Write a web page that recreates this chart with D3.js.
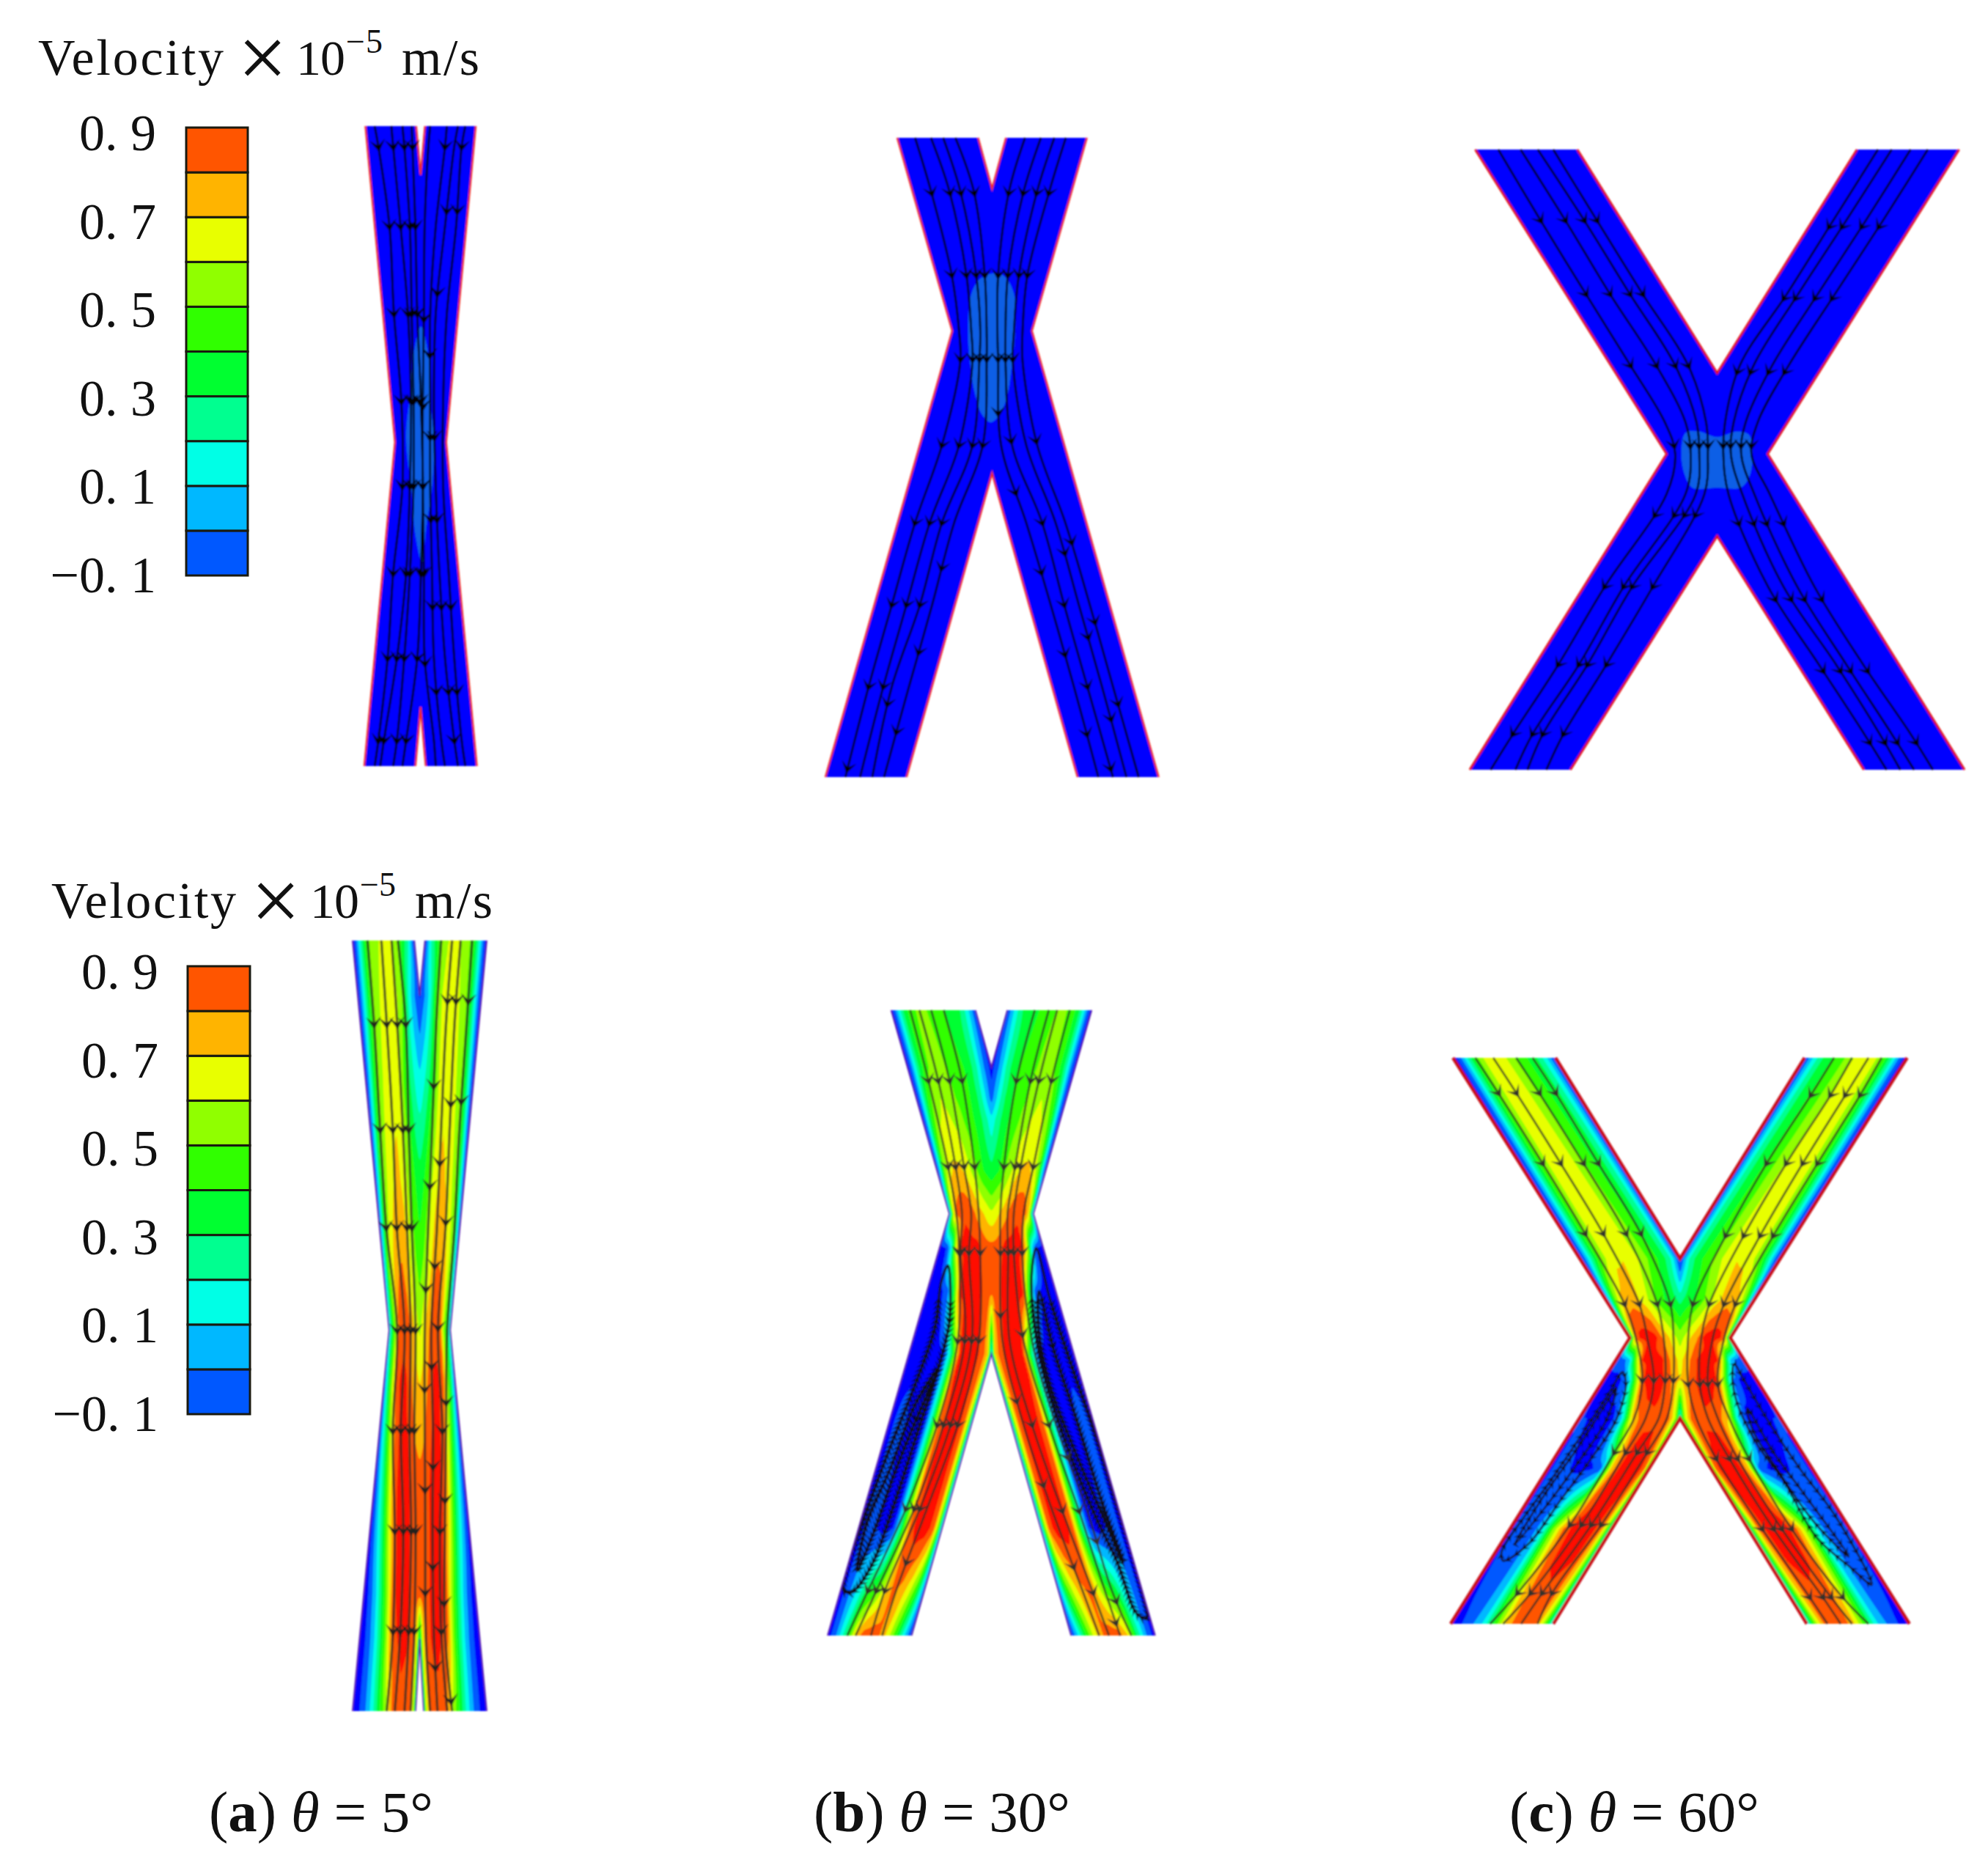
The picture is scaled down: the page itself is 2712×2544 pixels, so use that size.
<!DOCTYPE html>
<html><head><meta charset="utf-8">
<style>html,body{margin:0;padding:0;background:#fff}svg{display:block}text{font-family:"Liberation Serif",serif;fill:#111}</style>
<script src="https://cdn.jsdelivr.net/npm/d3@7/dist/d3.min.js"></script>
</head><body><svg id="c" width="2712" height="2544"></svg>
<script>
// ---------- legend ----------
const legendBreaks = [-0.1,0,0.1,0.2,0.3,0.4,0.5,0.6,0.7,0.8,0.9];
const legendColors = ["#0058ff","#00b8ff","#00ffe6","#00ff90","#00ff30","#30ff00","#90ff00","#e8ff00","#ffb400","#ff5500"];
const tickValues = [-0.1,0.1,0.3,0.5,0.7,0.9];
const tickLabels = ["\u22120. 1","0. 1","0. 3","0. 5","0. 7","0. 9"];
const underColor = "#0000ff", overColor = "#ff0a00";
// ---------- cross-channel stations (fraction of half channel width) ----------
const stations = [0,.04,.08,.14,.22,.32,.42,.52,.62,.72,.82,.9,.96,1];

// ---------- velocity tables, rows read top to bottom ----------
const aRows = [33,140,300,500,650,790,900,1100,1300,1390,1530];
const aField = [
[-.15,-.08,.05,.25,.45,.55,.6,.62,.6,.5,.35,.2,0,-.12],
[-.15,-.05,.08,.28,.48,.58,.64,.65,.62,.5,.18,.02,-.05,-.12],
[-.15,-.03,.12,.32,.5,.6,.66,.68,.65,.45,.3,.2,.14,.12],
[-.12,.02,.2,.42,.55,.65,.7,.72,.68,.6,.48,.4,.36,.34],
[-.1,.08,.28,.48,.62,.72,.78,.8,.75,.65,.55,.5,.46,.44],
[0,.15,.3,.42,.55,.82,.88,.88,.85,.78,.7,.65,.6,.58],
[-.1,.02,.2,.35,.55,.8,.9,.92,.92,.85,.78,.74,.72,.7],
[-.15,-.08,.02,.15,.32,.55,.82,.92,.95,.95,.88,.85,.84,.84],
[-.15,-.14,-.1,-.02,.1,.32,.55,.85,.95,.95,.9,.87,.86,.86],
[-.15,-.14,-.12,-.05,.05,.25,.48,.8,.9,.92,.9,.85,.6,.2],
[-.15,-.14,-.12,-.08,.02,.18,.38,.55,.82,.88,.88,.82,.6,.25]];
const bRows = [47,180,250,300,420,520,600,700,845,1000,1250,1500];
const bField = [
[-.15,-.05,.1,.3,.45,.52,.5,.45,.4,.35,.3,.15,0,-.12],
[-.15,-.05,.12,.32,.48,.54,.52,.46,.42,.38,.22,.02,-.08,-.15],
[-.15,-.03,.15,.38,.54,.6,.58,.5,.45,.4,.3,.16,.03,-.05],
[-.15,-.02,.18,.42,.58,.62,.6,.55,.48,.42,.35,.26,.18,.12],
[-.1,.02,.25,.52,.66,.72,.72,.68,.6,.52,.42,.38,.35,.33],
[-.05,.2,.52,.76,.85,.88,.88,.86,.8,.74,.7,.66,.63,.62],
[-.12,-.12,-.12,-.1,.1,.65,.95,.95,.95,.95,.88,.85,.84,.84],
[-.15,-.15,-.15,-.15,-.12,-.05,.4,.95,.95,.95,.93,.86,.84,.84],
[-.12,-.14,-.15,-.15,-.15,-.15,-.12,.3,.92,.95,.93,.84,.7,.05],
[-.1,-.12,-.08,-.05,-.12,-.15,-.15,.3,.86,.95,.95,.86,.55,-.02],
[-.15,-.12,-.08,-.05,-.1,-.15,-.1,.35,.86,.95,.95,.84,.45,-.05],
[-.15,-.1,-.05,.1,.3,.7,.85,.85,.8,.65,.4,.15,-.02,-.12]];
const cRows = [78,578,680,775,830,880,975,1100,1250,1487];
const cField = [
[-.15,-.1,0,.2,.45,.65,.66,.6,.48,.4,.3,.15,-.02,-.15],
[-.15,-.05,.1,.32,.55,.68,.7,.66,.56,.45,.36,.22,.02,-.15],
[-.1,.05,.3,.55,.72,.76,.72,.65,.55,.45,.38,.34,.3,.26],
[-.05,.25,.6,.85,.93,.95,.95,.93,.82,.75,.68,.62,.58,.55],
[-.1,-.08,-.05,-.02,.1,.55,.93,.95,.95,.92,.82,.75,.7,.66],
[-.1,-.12,-.13,-.15,-.12,.02,.5,.9,.95,.95,.88,.78,.72,.7],
[-.08,-.1,-.1,-.12,-.13,-.15,.1,.7,.85,.88,.88,.8,.55,.1],
[-.15,-.1,-.07,-.08,-.1,-.12,-.12,-.05,.7,.95,.96,.95,.8,.1],
[-.15,-.08,-.02,-.03,-.06,.1,.5,.8,.94,.95,.93,.8,.45,-.05],
[-.15,-.14,-.12,-.08,0,.12,.4,.68,.84,.86,.84,.6,.3,0]];

// ---------- channel walls: outer x [top, waist, bottom], inner x [top, bottom], y [top, apex, waist, apex, bottom] ----------
const topA_wall = {c:1124, outer:[975,1055,972], inner:[1112,1110], y:[245,340,860,1375,1490]};
const topB_wall = {c:760, outer:[372,597,78], inner:[703,410], y:[47,165,495,825,1530]};
const topC_wall = {c:772, outer:[68,625,52], inner:[365,345], y:[42,573,765,960,1515]};
const botA_wall = {c:397, outer:[122,272,122], inner:[375,380], y:[33,140,790,1390,1530]};
const botB_wall = {c:790, outer:[432,640,205], inner:[733,505], y:[47,180,520,845,1500]};
const botC_wall = {c:765, outer:[72,612,65], inner:[385,378], y:[78,578,775,975,1487]};

// ---------- streamlines: x at each row, per line ----------
const topA_rows = [245,285,440,610,780,945,1115,1280,1440,1490];
const topA_left = [[1000,1010,1040,1052,1072,1075,1050,1035,1010,1000],[1045,1050,1070,1090,1098,1095,1085,1060,1025,1015],[1075,1080,1095,1100,1105,1105,1095,1080,1060,1050],[1100,1102,1110,1115,1125,1130,1125,1115,1085,1075]];
const topA_right = [[1150,1145,1135,1133,1130,1130,1133,1135,1160,1165],[1195,1190,1165,1150,1150,1150,1155,1160,1180,1190],[1225,1215,1190,1165,1160,1165,1175,1190,1215,1225],[1245,1235,1220,1195,1185,1185,1200,1215,1235,1245]];
const topA_arrowsL = [[285,440,610,780,945,1115,1280,1440],[285,440,610,780,945,1115,1280,1440],[285,440,610,780,945,1115,1280,1440],[285,440,610,780,945,1115,1280,1440]];
const topA_arrowsR = [[620,790,945,1115,1290],[285,690,850,1010,1180,1345],[410,570,850,1010,1180,1345,1440],[285,410,1180,1345]];
const topA_blob = [[1125,635],[1145,690],[1150,780],[1160,850],[1155,950],[1140,1020],[1128,1095],[1110,1040],[1100,960],[1085,850],[1095,770],[1105,690]];

const topB_rows = [47,170,365,495,565,760,940,1130,1320,1530];
const topB_left = [[445,510,595,625,630,555,445,350,255,160],[510,585,655,675,680,625,505,410,315,220],[560,630,695,712,708,680,555,465,350,270],[610,685,730,738,738,722,605,515,420,318]];
const topB_right = [[895,830,785,782,785,797,900,1000,1095,1195],[960,890,825,815,815,842,965,1055,1150,1255],[1015,945,870,850,845,900,1020,1115,1210,1310],[1062,995,905,885,885,945,1060,1160,1255,1360]];
const topB_arrowsL = [[175,365,560,760,940,1130,1320,1510],[175,365,560,760,940,1130,1320],[175,365,560,760,940,1130,1360],[175,365,560,760,1045,1240,1425]];
const topB_arrowsR = [[175,365,560,685,870,1055,1245,1430],[175,365,560,750,940,1130,1320,1510],[175,365,560,1010,1205,1395],[175,365,750,985,1170,1360]];
const topB_blob = [[760,362],[810,368],[850,410],[855,500],[840,580],[820,650],[790,690],[755,707],[720,690],[690,640],[670,570],[662,490],[675,410],[710,375]];

const topC_rows = [42,210,385,555,690,765,860,1080,1265,1430,1515];
const topC_left = [[135,258,390,520,620,650,625,445,310,178,113],[200,330,460,595,680,695,680,500,370,235,185],[250,385,518,650,712,720,710,525,395,265,220],[295,422,555,688,740,745,735,585,450,325,275]];
const topC_right = [[1240,1110,975,838,795,790,805,920,1068,1200,1265],[1280,1148,1008,878,820,812,845,965,1118,1245,1305],[1335,1205,1065,932,855,842,880,1005,1148,1280,1345],[1385,1255,1115,980,890,872,925,1055,1197,1335,1400]];
const topC_arrowsL = [210,385,555,745,910,1080,1265,1430];
const topC_arrowsR = [225,395,570,745,930,1110,1280,1450];
const topC_blob = [[680,715],[720,712],[772,725],[830,712],[865,720],[875,760],[865,820],[840,845],[772,845],[700,845],[678,815],[668,765]];

const botA_rows = [33,195,400,590,790,985,1180,1375,1530];
const botA_left = [[183,210,235,260,305,287,295,288,262],[240,262,287,303,335,320,330,318,295],[282,305,328,345,360,355,362,352,335],[308,340,352,365,380,375,380,375,360]];
const botA_right = [[485,465,448,432,418,418,420,422,440],[530,505,485,468,445,452,450,455,470],[565,540,520,503,472,490,480,485,510],[612,590,560,540,510,505,500,500,530]];
const botA_arrowsL = [195,400,590,790,985,1180,1375];
const botA_arrowsR = [[315,510,710,905,1100,1300],[150,465,665,860,1055,1250,1445],[150,350,580,785,985,1180,1375],[150,345,930,1120,1320,1510]];

const botB_rows = [47,210,410,520,610,815,1010,1205,1395,1500];
const botB_left = [[500,565,635,665,675,670,597,485,350,275],[533,600,662,685,680,695,620,515,380,305],[575,640,692,718,710,720,645,535,410,360],[620,685,730,745,750,745,670,560,450,400]];
const botB_right = [[945,880,835,822,822,830,905,1005,1115,1175],[995,930,875,848,850,855,935,1040,1150,1210],[1025,960,895,870,870,905,995,1100,1195,1250],[1070,1005,940,905,900,935,1020,1130,1220,1290]];
const botB_arrowsL = [[210,410,610,815,1010,1205,1395],[210,410,610,815,1010,1205,1395],[210,410,610,815,1010,1205,1395],[210,410,610,815,1010,1330]];
const botB_arrowsR = [[210,410,610,755,955,1150,1340],[210,410,610,1010,1210,1400],[210,410,610,800,1010,1210,1470],[210,410,610,1085,1280,1420]];
const botB_loopsL = [[[635,640],[640,770],[600,880],[530,1020],[440,1200],[360,1340],[290,1400],[262,1395],[270,1350],[350,1200],[430,1060],[510,930],[590,780],[610,680]],[[600,880],[520,1000],[440,1130],[370,1260],[310,1350],[345,1240],[430,1110],[520,960]]];
const botB_loopsR = [[[950,600],[1000,720],[1080,880],[1160,1030],[1240,1200],[1310,1350],[1345,1460],[1310,1450],[1240,1330],[1160,1220],[1060,1060],[980,900],[940,760],[935,650]],[[960,700],[1010,830],[1090,990],[1180,1180],[1260,1330],[1200,1240],[1100,1090],[1000,920],[960,800]]];

const botC_rowsL = [78,165,340,515,690,775,880,975,1060,1240,1410,1487];
const botC_left = [[140,210,345,475,595,630,650,625,565,430,270,185],[195,265,400,530,640,665,685,660,600,465,310,225],[265,335,470,600,695,715,720,700,635,495,345,280],[315,385,515,645,735,745,745,725,665,525,375,330]];
const botC_rowsR = [78,170,340,520,690,775,890,975,1075,1250,1420,1487];
const botC_right = [[1235,1165,1030,905,805,790,790,815,875,1015,1160,1215],[1290,1225,1090,960,855,830,825,850,915,1050,1200,1255],[1340,1270,1140,1010,900,865,850,880,940,1075,1225,1290],[1380,1315,1185,1050,935,900,880,915,975,1105,1260,1340]];
const botC_arrowsL = [165,340,515,690,880,1060,1240,1410];
const botC_arrowsR = [170,340,520,690,890,1075,1250,1420];
const botC_loopsL = [[[590,860],[600,890],[570,980],[490,1080],[400,1180],[300,1290],[225,1330],[220,1310],[290,1220],[370,1130],[470,1010],[550,910]],[[570,900],[540,980],[450,1090],[360,1190],[260,1290],[340,1180],[460,1040],[530,950]]];
const botC_loopsR = [[[930,840],[960,880],[1040,990],[1130,1100],[1240,1220],[1350,1390],[1290,1350],[1180,1270],[1080,1130],[1000,1040],[940,940],[925,880]],[[970,950],[1050,1060],[1140,1160],[1280,1320],[1170,1230],[1060,1100],[990,1010]]];

// ---------- text ----------
const captions = [{tag:"a",val:"5"},{tag:"b",val:"30"},{tag:"c",val:"60"}];

// ---------- layout (pixels) ----------
const layout = {
 topA:{xd:[972,1275],xr:[497,650],yd:[245,1490],yr:[172,1045]},
 topB:{xd:[78,1443],xr:[1126,1581],yd:[47,1530],yr:[188,1060]},
 topC:{xd:[52,1492],xr:[2005,2680],yd:[42,1515],yr:[204,1050]},
 botA:{xd:[122,672],xr:[481,664],yd:[33,1530],yr:[1283,2334]},
 botB:{xd:[205,1378],xr:[1129,1577],yd:[47,1500],yr:[1378,2231]},
 botC:{xd:[65,1470],xr:[1979,2607],yd:[78,1487],yr:[1443,2215]}
};

const svg = d3.select("#c");
const defs = svg.append("defs");
defs.append("filter").attr("id","soft").attr("x","-5%").attr("y","-5%").attr("width","110%").attr("height","110%")
  .append("feGaussianBlur").attr("stdDeviation",0.9);

const bandColor = d3.scaleThreshold().domain(legendBreaks).range([underColor,...legendColors,overColor]);

function drawPanel(id, wall, opts){
  const L = layout[id];
  const sx = d3.scaleLinear().domain(L.xd).range(L.xr);
  const sy = d3.scaleLinear().domain(L.yd).range(L.yr);
  const c = wall.c, [yT,yA1,yW,yA2,yB] = wall.y;
  const mir = x => 2*c - x;
  const left = [[wall.outer[0],yT],[wall.outer[1],yW],[wall.outer[2],yB],[wall.inner[1],yB],[c,yA2]];
  const topIn = [[c,yA1],[wall.inner[0],yT]];
  const poly = [...left,
    [mir(wall.inner[1]),yB],[mir(wall.outer[2]),yB],[mir(wall.outer[1]),yW],[mir(wall.outer[0]),yT],[mir(wall.inner[0]),yT],...topIn];
  const line = d3.line().x(d=>sx(d[0])).y(d=>sy(d[1]));
  const g = svg.append("g").attr("filter","url(#soft)");
  defs.append("clipPath").attr("id","clip-"+id).append("path").attr("d",line(poly)+"Z");
  const body = g.append("g").attr("clip-path",`url(#clip-${id})`);
  body.append("path").attr("d",line(poly)+"Z").attr("fill",underColor);

  if(opts.field){
    const outerX = d3.scaleLinear().domain([yT,yW,yB]).range(wall.outer).clamp(true);
    const innerX = d3.scaleLinear().domain([yT,yA1,yA2,yB]).range([wall.inner[0],c,c,wall.inner[1]]).clamp(true);
    const rowIdx = d3.scaleLinear().domain(opts.rows).range(d3.range(opts.rows.length)).clamp(true);
    const colIdx = d3.scaleLinear().domain(stations).range(d3.range(stations.length)).clamp(true);
    const cell = 2;
    const x0 = L.xr[0]-4, y0 = L.yr[0]-4;
    const nx = Math.ceil((L.xr[1]-L.xr[0]+8)/cell), ny = Math.ceil((L.yr[1]-L.yr[0]+8)/cell);
    const vals = new Float64Array(nx*ny);
    for(let j=0;j<ny;j++){
      const y = sy.invert(y0+j*cell), xo = outerX(y), xi = innerX(y);
      const rf = rowIdx(y), r0 = Math.min(Math.floor(rf),opts.rows.length-2), wr = rf-r0;
      const A = opts.field[r0], B = opts.field[r0+1];
      for(let i=0;i<nx;i++){
        let x = sx.invert(x0+i*cell); if(x>c) x = mir(x);
        const cf = colIdx((x-xo)/Math.max(xi-xo,1e-6));
        const c0 = Math.min(Math.floor(cf),stations.length-2), wc = cf-c0;
        vals[j*nx+i] = (A[c0]*(1-wc)+A[c0+1]*wc)*(1-wr)+(B[c0]*(1-wc)+B[c0+1]*wc)*wr;
      }
    }
    const path = d3.geoPath(d3.geoIdentity().scale(cell).translate([x0-cell/2,y0-cell/2]));
    const cont = d3.contours().size([nx,ny]).thresholds(legendBreaks)(Array.from(vals));
    body.selectAll("path.band").data(cont).join("path").attr("class","band")
      .attr("d",path).attr("fill",d=>bandColor(d.value));
  }
  if(opts.blob){
    body.append("path").attr("d",d3.line().x(d=>sx(d[0])).y(d=>sy(d[1])).curve(d3.curveCatmullRomClosed)(opts.blob)).attr("fill","#0a5fe6");
  }
  // recirculation loops
  const loopLine = d3.line().x(d=>sx(d[0])).y(d=>sy(d[1])).curve(d3.curveCatmullRomClosed);
  const arrow = (s)=>`M0,${7*s}L${10*s},${-9*s}L0,${-1*s}L${-10*s},${-9*s}Z`;
  (opts.loops||[]).forEach(lp=>{
    const p = body.append("path").attr("d",loopLine(lp)).attr("fill","none").attr("stroke","#101018").attr("stroke-width",opts.loopWidth||3).attr("stroke-opacity",.9);
    if(opts.loopStep){
      const n = p.node(), T = n.getTotalLength();
      for(let t=0;t<T;t+=opts.loopStep){
        const a = n.getPointAtLength(t), b = n.getPointAtLength(t+2);
        if(sy.invert(a.y) < opts.loopFrom) continue;
        const ang = Math.atan2(b.y-a.y,b.x-a.x)*180/Math.PI-90;
        body.append("path").attr("d",arrow(opts.loopArrow||.6)).attr("transform",`translate(${a.x},${a.y}) rotate(${ang})`).attr("fill","#08080e").attr("fill-opacity",.9);
      }
    }
  });
  // walls
  const wallStroke = opts.wall;
  const wallGroups = [
    [[wall.outer[0],yT],[wall.outer[1],yW],[wall.outer[2],yB]],
    [[mir(wall.outer[0]),yT],[mir(wall.outer[1]),yW],[mir(wall.outer[2]),yB]],
    [[wall.inner[0],yT],[c,yA1],[mir(wall.inner[0]),yT]],
    [[wall.inner[1],yB],[c,yA2],[mir(wall.inner[1]),yB]]
  ];
  g.selectAll("path.wall").data(wallGroups).join("path").attr("class","wall").attr("d",line)
    .attr("fill","none").attr("stroke",wallStroke.color).attr("stroke-width",wallStroke.width);

  // streamlines
  const sl = d3.line().x(d=>sx(d[0])).y(d=>sy(d[1])).curve(d3.curveCatmullRom);
  const drawLines = (rows,lines,arrows)=>{
    lines.forEach((xs,k)=>{
      const pts = rows.map((y,i)=>[xs[i],y]);
      const p = g.append("path").attr("d",sl(pts)).attr("fill","none")
        .attr("stroke",opts.line.color).attr("stroke-width",opts.line.width).attr("stroke-opacity",opts.line.op);
      const n = p.node(), T = n.getTotalLength();
      const ys = Array.isArray(arrows[0]) ? arrows[k] : arrows;
      ys.forEach(yv=>{
        const target = sy(yv); let lo=0, hi=T;
        for(let q=0;q<24;q++){const m=(lo+hi)/2; if(n.getPointAtLength(m).y<target) lo=m; else hi=m;}
        const a = n.getPointAtLength(lo), b = n.getPointAtLength(lo+3);
        const ang = Math.atan2(b.y-a.y,b.x-a.x)*180/Math.PI-90;
        g.append("path").attr("d",arrow(opts.arrowScale||1)).attr("transform",`translate(${a.x},${a.y}) rotate(${ang})`).attr("fill",opts.arrowColor||"#000");
      });
    });
  };
  drawLines(opts.lineRows,opts.left,opts.arrowsL);
  drawLines(opts.rowsR||opts.lineRows,opts.right,opts.arrowsR);
}

const topLine = {color:"#000",width:2.8,op:1}, botLine={color:"#2c2c20",width:2.8,op:.8};
drawPanel("topA",topA_wall,{lineRows:topA_rows,left:topA_left,right:topA_right,arrowsL:topA_arrowsL,arrowsR:topA_arrowsR,blob:topA_blob,wall:{color:"#ee2a20",width:2.5},line:topLine,arrowScale:1.05});
drawPanel("topB",topB_wall,{lineRows:topB_rows,left:topB_left,right:topB_right,arrowsL:topB_arrowsL,arrowsR:topB_arrowsR,blob:topB_blob,wall:{color:"#ee2a20",width:2.5},line:topLine});
drawPanel("topC",topC_wall,{lineRows:topC_rows,left:topC_left,right:topC_right,arrowsL:topC_arrowsL,arrowsR:topC_arrowsR,blob:topC_blob,wall:{color:"#e01010",width:3},line:topLine});
drawPanel("botA",botA_wall,{field:aField,rows:aRows,lineRows:botA_rows,left:botA_left,right:botA_right,arrowsL:botA_arrowsL,arrowsR:botA_arrowsR,wall:{color:"#5a20b0",width:2},line:{color:"#2c2c20",width:3.4,op:.8},arrowColor:"#22221a",arrowScale:1.05});
drawPanel("botB",botB_wall,{field:bField,rows:bRows,lineRows:botB_rows,left:botB_left,right:botB_right,arrowsL:botB_arrowsL,arrowsR:botB_arrowsR,loops:[...botB_loopsL,...botB_loopsR],loopStep:7,loopFrom:720,loopArrow:.7,loopWidth:3.5,wall:{color:"#5a20b0",width:2},line:botLine,arrowColor:"#33332a"});
drawPanel("botC",botC_wall,{field:cField,rows:cRows,lineRows:botC_rowsL,rowsR:botC_rowsR,left:botC_left,right:botC_right,arrowsL:botC_arrowsL,arrowsR:botC_arrowsR,loops:[...botC_loopsL,...botC_loopsR],loopWidth:2.6,loopStep:14,loopFrom:800,loopArrow:.55,wall:{color:"#c80a14",width:4.5},line:botLine,arrowColor:"#33332a"});

// ---------- legends ----------
function drawLegend(cfg){
  const yBar = d3.scaleLinear().domain([-0.1,0.9]).range([cfg.y0,cfg.y1]);
  const yTick = d3.scaleLinear().domain([-0.1,0.9]).range([cfg.y0,cfg.yLab]);
  const g = svg.append("g");
  g.selectAll("rect").data(legendColors).join("rect")
    .attr("x",cfg.x0).attr("width",cfg.x1-cfg.x0)
    .attr("y",(d,i)=>yBar(legendBreaks[i+1])).attr("height",(d,i)=>yBar(legendBreaks[i])-yBar(legendBreaks[i+1]))
    .attr("fill",d=>d).attr("stroke","#1a1a10").attr("stroke-width",3);
  const axis = d3.axisLeft(yTick).tickValues(tickValues).tickSize(0).tickPadding(cfg.pad)
    .tickFormat((d,i)=>tickLabels[i]);
  const ag = svg.append("g").attr("transform",`translate(${cfg.x0},0)`).call(axis);
  ag.select(".domain").remove();
  ag.selectAll("text").attr("font-family",'"Liberation Serif",serif').attr("font-size",70).attr("fill","#111").attr("dy","0.32em");
  const t = cfg.title;
  const txt = (s,x,y,w,fs)=>svg.append("text").text(s).attr("x",x).attr("y",y).attr("font-size",fs).attr("textLength",w).attr("lengthAdjust","spacing");
  txt("Velocity",t.v[0],t.base,t.v[1],70);
  svg.append("text").text("\u00d7").attr("x",t.x).attr("y",t.base+17).attr("font-size",120).attr("text-anchor","middle");
  txt("10",t.ten[0],t.base,t.ten[1],68);
  txt("\u22125",t.exp[0],t.base-30,t.exp[1],46);
  txt("m/s",t.ms[0],t.base,t.ms[1],70);
}
drawLegend({x0:254,x1:338,y0:785,y1:174,yLab:182,pad:41,title:{base:102,v:[52,253],x:358,ten:[404,67],exp:[472,50],ms:[548,106]}});
drawLegend({x0:256,x1:341,y0:1929,y1:1318,yLab:1326,pad:40,title:{base:1252,v:[70,252],x:376,ten:[423,67],exp:[491,49],ms:[566,106]}});

// ---------- captions ----------
const capX = [285,1110,2059];
captions.forEach((c,i)=>{
  const t = svg.append("text").attr("x",capX[i]).attr("y",2498).attr("font-size",79).attr("font-family",'"Liberation Serif",serif');
  t.append("tspan").text("(");
  t.append("tspan").text(c.tag).attr("font-weight","bold");
  t.append("tspan").text(") ");
  t.append("tspan").text("\u03b8").attr("font-style","italic");
  t.append("tspan").text(" = "+c.val+"\u00b0");
});
</script></body></html>
